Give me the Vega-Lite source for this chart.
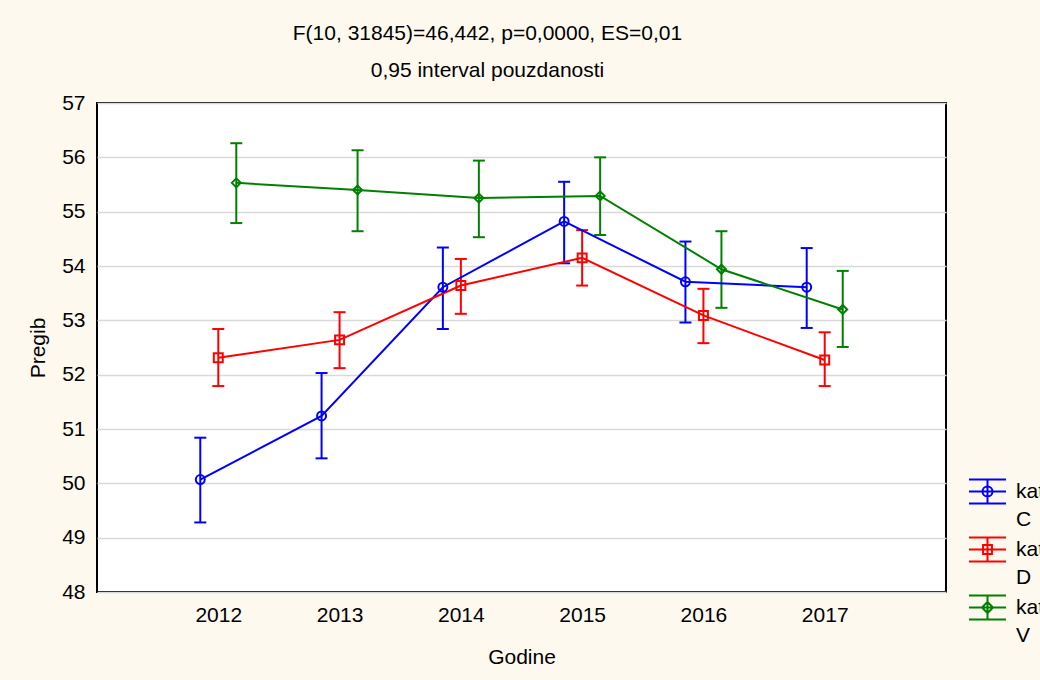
{
  "$schema": "https://vega.github.io/schema/vega-lite/v6.json",
  "width": 849,
  "height": 489,
  "autosize": {"type": "none"},
  "padding": {"left": 97, "top": 103, "right": 94, "bottom": 88},
  "background": "#fdf9ef",
  "config": {
    "font": "Liberation Sans",
    "view": {"fill": "white", "stroke": "black", "strokeWidth": 2},
    "axis": {
      "labelFont": "Liberation Sans",
      "labelFontSize": 21,
      "labelColor": "black",
      "titleFont": "Liberation Sans",
      "titleFontSize": 21,
      "titleFontWeight": "normal",
      "titleColor": "black",
      "gridColor": "#d9d9d9",
      "gridWidth": 1.5,
      "domain": false,
      "ticks": false
    }
  },
  "title": {
    "text": ["F(10, 31845)=46,442, p=0,0000, ES=0,01", "0,95 interval pouzdanosti"],
    "font": "Liberation Sans",
    "fontSize": 21,
    "fontWeight": "normal",
    "lineHeight": 37,
    "anchor": "middle",
    "dx": -34,
    "offset": 11,
    "color": "black"
  },
  "data": {
    "values": [
      {"kat": "kat C", "year": "2012", "mean": 50.07, "lo": 49.28, "hi": 50.84},
      {"kat": "kat C", "year": "2013", "mean": 51.24, "lo": 50.46, "hi": 52.03},
      {"kat": "kat C", "year": "2014", "mean": 53.61, "lo": 52.84, "hi": 54.34},
      {"kat": "kat C", "year": "2015", "mean": 54.82, "lo": 54.05, "hi": 55.55},
      {"kat": "kat C", "year": "2016", "mean": 53.71, "lo": 52.96, "hi": 54.45},
      {"kat": "kat C", "year": "2017", "mean": 53.61, "lo": 52.86, "hi": 54.33},
      {"kat": "kat D", "year": "2012", "mean": 52.31, "lo": 51.79, "hi": 52.84},
      {"kat": "kat D", "year": "2013", "mean": 52.64, "lo": 52.12, "hi": 53.15},
      {"kat": "kat D", "year": "2014", "mean": 53.64, "lo": 53.12, "hi": 54.13},
      {"kat": "kat D", "year": "2015", "mean": 54.15, "lo": 53.64, "hi": 54.66},
      {"kat": "kat D", "year": "2016", "mean": 53.09, "lo": 52.58, "hi": 53.58},
      {"kat": "kat D", "year": "2017", "mean": 52.27, "lo": 51.79, "hi": 52.78},
      {"kat": "kat V", "year": "2012", "mean": 55.53, "lo": 54.79, "hi": 56.26},
      {"kat": "kat V", "year": "2013", "mean": 55.40, "lo": 54.64, "hi": 56.13},
      {"kat": "kat V", "year": "2014", "mean": 55.25, "lo": 54.53, "hi": 55.94},
      {"kat": "kat V", "year": "2015", "mean": 55.29, "lo": 54.57, "hi": 56.00},
      {"kat": "kat V", "year": "2016", "mean": 53.94, "lo": 53.23, "hi": 54.64},
      {"kat": "kat V", "year": "2017", "mean": 53.20, "lo": 52.51, "hi": 53.91}
    ]
  },
  "encoding": {
    "x": {
      "field": "year",
      "type": "ordinal",
      "scale": {"type": "point", "padding": 1},
      "axis": {"title": "Godine", "labelAngle": 0, "labelPadding": 12, "titlePadding": 21}
    },
    "xOffset": {
      "field": "kat",
      "type": "nominal",
      "scale": {"type": "point", "range": [-18, 18], "padding": 0}
    },
    "color": {
      "field": "kat",
      "type": "nominal",
      "scale": {"domain": ["kat C", "kat D", "kat V"], "range": ["#0000ff", "#ff0000", "#008000"]},
      "legend": {
        "orient": "none",
        "legendX": 871,
        "legendY": 369,
        "title": null,
        "padding": 0,
        "symbolType": "M-1,-0.65H1M-1,0H1M-1,0.65H1M0,-0.65V0.65",
        "symbolSize": 1369,
        "symbolStrokeWidth": 2,
        "symbolFillColor": "transparent",
        "labelFont": "Liberation Sans",
        "labelFontSize": 21,
        "labelColor": "black",
        "labelOffset": 9,
        "rowPadding": 0,
        "labelExpr": "['kat', substring(datum.label, 4)]",
        "encode": {
          "labels": {"update": {"lineHeight": {"value": 28}}},
          "symbols": {
            "update": {
              "shape": {"signal": "datum.value === 'kat C' ? 'M-1,-0.65H1M-1,0H1M-1,0.65H1M0,-0.65V0.65M0.27,0A0.27,0.27 0 1,1 -0.27,0A0.27,0.27 0 1,1 0.27,0' : datum.value === 'kat D' ? 'M-1,-0.65H1M-1,0H1M-1,0.65H1M0,-0.65V0.65M-0.24,-0.24H0.24V0.24H-0.24Z' : 'M-1,-0.65H1M-1,0H1M-1,0.65H1M0,-0.65V0.65M0,-0.3L0.3,0L0,0.3L-0.3,0Z'"},
              "fill": {"value": "transparent"},
              "strokeWidth": {"value": 2},
              "size": {"value": 1369}
            }
          }
        }
      }
    }
  },
  "layer": [
    {
      "mark": {"type": "rule", "strokeWidth": 2},
      "encoding": {
        "y": {
          "field": "lo",
          "type": "quantitative",
          "title": "Pregib",
          "scale": {"domain": [48, 57], "nice": false, "zero": false},
          "axis": {"values": [48, 49, 50, 51, 52, 53, 54, 55, 56, 57], "format": "d", "labelPadding": 12, "titlePadding": 13}
        },
        "y2": {"field": "hi"}
      }
    },
    {
      "mark": {"type": "point", "shape": "M-1,0H1", "size": 144, "filled": false, "strokeWidth": 2, "opacity": 1},
      "encoding": {"y": {"field": "lo", "type": "quantitative", "title": "Pregib"}}
    },
    {
      "mark": {"type": "point", "shape": "M-1,0H1", "size": 144, "filled": false, "strokeWidth": 2, "opacity": 1},
      "encoding": {"y": {"field": "hi", "type": "quantitative", "title": "Pregib"}}
    },
    {
      "mark": {"type": "line", "strokeWidth": 2},
      "encoding": {"y": {"field": "mean", "type": "quantitative", "title": "Pregib"}}
    },
    {
      "transform": [{"filter": "datum.kat === 'kat C'"}],
      "mark": {"type": "point", "shape": "circle", "filled": false, "size": 80, "strokeWidth": 2, "opacity": 1},
      "encoding": {"y": {"field": "mean", "type": "quantitative", "title": "Pregib"}}
    },
    {
      "transform": [{"filter": "datum.kat === 'kat D'"}],
      "mark": {"type": "point", "shape": "square", "filled": false, "size": 80, "strokeWidth": 2, "opacity": 1},
      "encoding": {"y": {"field": "mean", "type": "quantitative", "title": "Pregib"}}
    },
    {
      "transform": [{"filter": "datum.kat === 'kat V'"}],
      "mark": {"type": "point", "shape": "diamond", "filled": false, "size": 80, "strokeWidth": 2, "opacity": 1},
      "encoding": {"y": {"field": "mean", "type": "quantitative", "title": "Pregib"}}
    }
  ]
}
